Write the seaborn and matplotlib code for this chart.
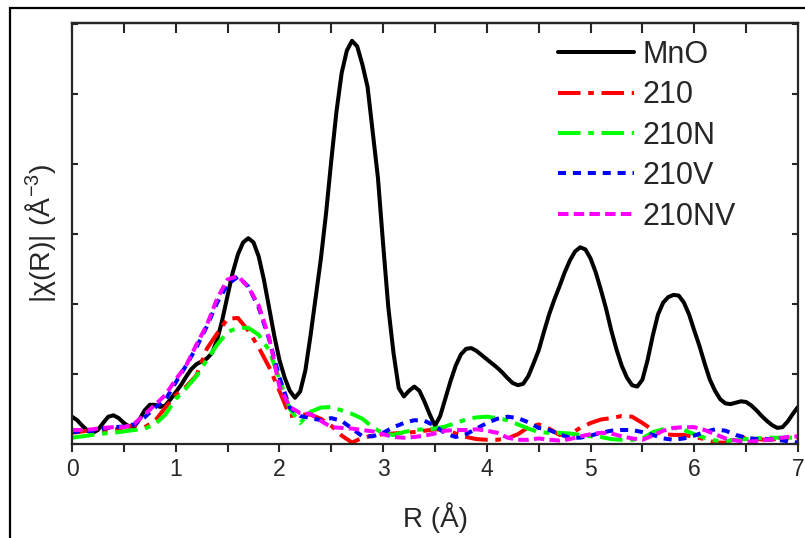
import numpy as np
import pandas as pd
import matplotlib
matplotlib.use("Agg")
import matplotlib.pyplot as plt
from matplotlib.patches import Rectangle
import seaborn as sns

# -------------------------
# Data
# -------------------------

# MnO on a 0.05 A grid
r_mno = np.round(np.arange(0, 7.001, 0.05), 2)
mno = [
    0.39, 0.34, 0.26, 0.19, 0.16, 0.20, 0.30, 0.39, 0.41, 0.37,
    0.30, 0.25, 0.25, 0.35, 0.48, 0.56, 0.56, 0.53, 0.55, 0.64,
    0.74, 0.84, 0.96, 1.07, 1.14, 1.18, 1.22, 1.30, 1.49, 1.78,
    2.12, 2.45, 2.71, 2.88, 2.94, 2.88, 2.68, 2.35, 1.95, 1.55,
    1.20, 0.95, 0.76, 0.66, 0.75, 1.05, 1.55, 2.10, 2.65, 3.30,
    4.05, 4.75, 5.30, 5.62, 5.76, 5.68, 5.42, 5.10, 4.45, 3.80,
    2.85, 1.95, 1.30, 0.80, 0.68, 0.76, 0.82, 0.76, 0.60, 0.42,
    0.26, 0.40, 0.65, 0.90, 1.12, 1.28, 1.36, 1.37, 1.33, 1.27,
    1.21, 1.15, 1.09, 1.02, 0.94, 0.87, 0.84, 0.86, 0.97, 1.15,
    1.34, 1.60, 1.85, 2.06, 2.25, 2.45, 2.62, 2.75, 2.81, 2.78,
    2.65, 2.45, 2.20, 1.93, 1.62, 1.35, 1.12, 0.95, 0.84, 0.82,
    0.92, 1.20, 1.55, 1.85, 2.02, 2.10, 2.13, 2.12, 2.02, 1.85,
    1.62, 1.40, 1.15, 0.92, 0.76, 0.64, 0.58, 0.57, 0.59, 0.61,
    0.60, 0.55, 0.48, 0.40, 0.33, 0.27, 0.23, 0.24, 0.32, 0.43,
    0.53,
]

# samples on a 0.1 A grid
r_s = np.round(np.arange(0, 7.001, 0.1), 1)
s210 = [
    0.16, 0.18, 0.20, 0.19, 0.20, 0.24, 0.27, 0.24, 0.33, 0.52,
    0.70, 0.82, 0.98, 1.36, 1.58, 1.79, 1.80, 1.62, 1.38, 1.10,
    0.76, 0.40, 0.42, 0.42, 0.36, 0.26, 0.12, 0.02, 0.09, 0.12,
    0.14, 0.15, 0.16, 0.17, 0.19, 0.21, 0.20, 0.15, 0.10, 0.07,
    0.06, 0.06, 0.08, 0.14, 0.24, 0.28, 0.22, 0.13, 0.14, 0.23,
    0.30, 0.35, 0.37, 0.40, 0.39, 0.30, 0.20, 0.14, 0.13, 0.13,
    0.10, 0.07, 0.02, 0.02, 0.08, 0.09, 0.07, 0.06, 0.07, 0.08,
    0.08,
]
s210n = [
    0.09, 0.11, 0.13, 0.15, 0.16, 0.18, 0.20, 0.22, 0.28, 0.42,
    0.64, 0.80, 0.97, 1.20, 1.42, 1.60, 1.66, 1.66, 1.56, 1.34,
    0.93, 0.50, 0.30, 0.46, 0.52, 0.53, 0.48, 0.43, 0.36, 0.24,
    0.15, 0.13, 0.17, 0.20, 0.21, 0.22, 0.25, 0.30, 0.35, 0.38,
    0.39, 0.37, 0.34, 0.28, 0.22, 0.17, 0.16, 0.16, 0.15, 0.13,
    0.11, 0.10, 0.07, 0.06, 0.06, 0.08, 0.17, 0.21, 0.23, 0.20,
    0.14, 0.09, 0.05, 0.04, 0.06, 0.07, 0.08, 0.09, 0.09, 0.09,
    0.09,
]
s210v = [
    0.17, 0.18, 0.19, 0.22, 0.24, 0.25, 0.28, 0.38, 0.52, 0.63,
    0.88, 1.12, 1.38, 1.68, 2.02, 2.28, 2.39, 2.25, 1.95, 1.50,
    0.95, 0.52, 0.40, 0.37, 0.34, 0.37, 0.33, 0.22, 0.11, 0.11,
    0.16, 0.24, 0.30, 0.34, 0.33, 0.26, 0.15, 0.10, 0.14, 0.22,
    0.30, 0.36, 0.39, 0.37, 0.31, 0.23, 0.20, 0.14, 0.09, 0.09,
    0.12, 0.16, 0.19, 0.20, 0.20, 0.17, 0.13, 0.08, 0.06, 0.08,
    0.12, 0.17, 0.21, 0.19, 0.13, 0.09, 0.07, 0.07, 0.06, 0.04,
    0.02,
]
s210nv = [
    0.20, 0.20, 0.21, 0.23, 0.24, 0.24, 0.29, 0.42, 0.56, 0.70,
    0.92, 1.12, 1.42, 1.70, 2.08, 2.35, 2.40, 2.24, 1.98, 1.52,
    0.82, 0.53, 0.44, 0.43, 0.33, 0.24, 0.23, 0.22, 0.20, 0.18,
    0.14, 0.10, 0.09, 0.10, 0.12, 0.15, 0.19, 0.20, 0.20, 0.21,
    0.19, 0.16, 0.09, 0.06, 0.06, 0.08, 0.06, 0.05, 0.07, 0.11,
    0.14, 0.16, 0.15, 0.11, 0.08, 0.06, 0.12, 0.19, 0.23, 0.24,
    0.24, 0.20, 0.14, 0.08, 0.05, 0.03, 0.04, 0.06, 0.08, 0.10,
    0.11,
]

labels = ["MnO", "210", "210N", "210V", "210NV"]
colors = ["black", "#ff0000", "#00ff00", "#0000ff", "#ff00ff"]


# -------------------------
# Style
# -------------------------

sns.set_style("ticks")
plt.rcParams["font.family"] = ["Liberation Sans", "DejaVu Sans"]
plt.rcParams["mathtext.fontset"] = "custom"
plt.rcParams["mathtext.rm"] = "Liberation Sans"
plt.rcParams["mathtext.default"] = "regular"

fig = plt.figure(figsize=(8.05, 5.38), dpi=100)
ax = fig.add_axes([72 / 805, 1 - 444 / 538, 726 / 805, 421 / 538])

# outer frame of the original figure
fig.patches.append(Rectangle((10 / 805, -0.2), 1.5, 1.2 - 8 / 538,
                             transform=fig.transFigure, fill=False,
                             edgecolor="black", linewidth=1.6))


# -------------------------
# Curves
# -------------------------

sns.lineplot(x=r_mno, y=mno, ax=ax, color=colors[0], lw=2.9,
             sort=False, errorbar=None, label=labels[0])
ax.lines[-1].set_solid_joinstyle("round")

series = [s210, s210n, s210v, s210nv]
dash_styles = [(5.6, 1.9, 1.4, 1.9), (5.6, 1.9, 1.4, 1.9), (2.0, 1.7), (2.6, 1.3)]
for vals, lab, col, dsh in zip(series, labels[1:], colors[1:], dash_styles):
    sns.lineplot(x=r_s, y=vals, ax=ax, color=col, lw=2.9,
                 sort=False, errorbar=None, label=lab)
    ax.lines[-1].set_dashes(dsh)
    ax.lines[-1].set_dash_joinstyle("round")

ax.set_xlim(0, 7)
ax.set_ylim(0, 421 / 70)

# bottom: labelled major + minor, pointing out
ax.set_xticks(np.arange(0, 8, 1))
ax.set_xticks(np.arange(0.5, 7, 1), minor=True)
ax.tick_params(axis="x", which="both", direction="out", length=6, width=1.5,
               labelsize=16.5, pad=4)
# left / right: inward, no labels
ax.set_yticks(np.arange(0, 7, 1))
ax.tick_params(axis="y", which="both", direction="in", length=4, width=1.5,
               left=True, right=True, labelleft=False)
# top: inward at every 0.5
top = ax.secondary_xaxis("top")
top.set_xticks(np.arange(0, 7.01, 0.5))
top.tick_params(direction="in", length=7, width=1.5, labeltop=False)
top.spines["top"].set_linewidth(1.6)

for sp in ax.spines.values():
    sp.set_linewidth(1.6)

ax.set_xlabel("R (Å)", fontsize=20, labelpad=15)
ax.set_ylabel("|χ(R)| (Å$^{-3}$)", fontsize=20.5, labelpad=10)

ax.legend(loc="upper left", bbox_to_anchor=(558 / 805, 1 - 40 / 538),
          bbox_transform=fig.transFigure, frameon=False, fontsize=22,
          handlelength=2.5, handletextpad=0.25, labelspacing=0.34,
          borderpad=0, borderaxespad=0)

fig.savefig("out.png", dpi=100)
